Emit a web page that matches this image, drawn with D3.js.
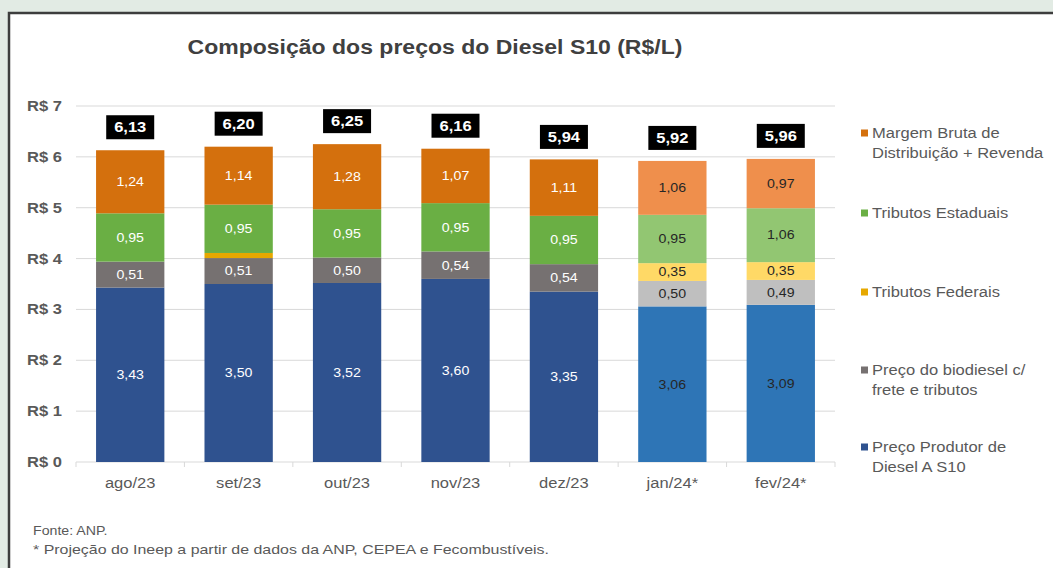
<!DOCTYPE html>
<html>
<head>
<meta charset="utf-8">
<script src="https://cdn.jsdelivr.net/npm/d3@7"></script>
<style>
  html, body { margin: 0; padding: 0; background: #e2ebe4; }
  svg { display: block; font-family: 'Liberation Sans', Arial, sans-serif; }
</style>
</head>
<body>
<svg id="chart"></svg>
<script>
const W = 1053, H = 568;

// data
const months = ['ago/23', 'set/23', 'out/23', 'nov/23', 'dez/23', 'jan/24*', 'fev/24*'];
const projected = [false, false, false, false, false, true, true];
const produtor = [3.43, 3.50, 3.52, 3.60, 3.35, 3.06, 3.09];
const biodiesel = [0.51, 0.51, 0.50, 0.54, 0.54, 0.50, 0.49];
const federais = [0, 0.10, 0, 0, 0, 0.35, 0.35];
const estaduais = [0.95, 0.95, 0.95, 0.95, 0.95, 0.95, 1.06];
const margem = [1.24, 1.14, 1.28, 1.07, 1.11, 1.06, 0.97];
const totals = [6.13, 6.20, 6.25, 6.16, 5.94, 5.92, 5.96];
const yTicks = [0, 1, 2, 3, 4, 5, 6, 7];

const series = [
  { key: 'produtor', values: produtor, label: ['Preço Produtor de', 'Diesel A S10'], dark: '#2f528f', light: '#2e75b6' },
  { key: 'biodiesel', values: biodiesel, label: ['Preço do biodiesel c/', 'frete e tributos'], dark: '#767171', light: '#bfbfbf' },
  { key: 'federais', values: federais, label: ['Tributos Federais'], dark: '#e6a800', light: '#ffd966' },
  { key: 'estaduais', values: estaduais, label: ['Tributos Estaduais'], dark: '#6aaf44', light: '#92c672' },
  { key: 'margem', values: margem, label: ['Margem Bruta de', 'Distribuição + Revenda'], dark: '#d4700d', light: '#ef8f4c' },
];

const SX = 1.18; // the source picture is stretched sideways
const GREY = '#595959';
const fmt = v => d3.format('.2f')(v).replace('.', ',');

const svg = d3.select('#chart').attr('width', W).attr('height', H);

svg.append('rect').attr('width', W).attr('height', H).attr('fill', '#e2ebe4');
svg.append('rect')
  .attr('x', 9).attr('y', 13).attr('width', W + 20).attr('height', H + 20)
  .attr('fill', '#fff').attr('stroke', '#3d3d3d').attr('stroke-width', 2.5);

const x = d3.scaleBand().domain(months).range([76, 835]).paddingInner(0.37).paddingOuter(0.185);
const y = d3.scaleLinear().domain([0, 7]).range([462, 106]);

// title
svg.append('text')
  .attr('x', 435).attr('y', 54)
  .attr('text-anchor', 'middle')
  .attr('font-size', 19.5).attr('font-weight', 'bold').attr('fill', '#404040')
  .text('Composição dos preços do Diesel S10 (R$/L)');

// grid + y labels
const grid = svg.append('g');
grid.selectAll('line')
  .data(yTicks)
  .join('line')
  .attr('x1', 76).attr('x2', 835)
  .attr('y1', d => y(d)).attr('y2', d => y(d))
  .attr('stroke', '#d9d9d9').attr('stroke-width', 1);
grid.selectAll('text')
  .data(yTicks)
  .join('text')
  .attr('x', 62).attr('y', d => y(d))
  .attr('dy', '0.36em')
  .attr('text-anchor', 'end')
  .attr('font-size', 14).attr('font-weight', 'bold').attr('fill', GREY)
  .text(d => `R$ ${d}`);

// x axis ticks at band boundaries
const step = x.step();
svg.append('g').selectAll('line')
  .data(d3.range(months.length + 1))
  .join('line')
  .attr('x1', i => 76 + i * step).attr('x2', i => 76 + i * step)
  .attr('y1', 462).attr('y2', 467)
  .attr('stroke', '#d9d9d9');
svg.append('g').selectAll('text')
  .data(months)
  .join('text')
  .attr('x', d => x(d) + x.bandwidth() / 2).attr('y', 488)
  .attr('text-anchor', 'middle')
  .attr('font-size', 14).attr('fill', GREY)
  .text(d => d);

// stacked bars
const rows = months.map((m, i) => {
  const r = { month: m, i };
  series.forEach(s => { r[s.key] = s.values[i]; });
  return r;
});
const stacked = d3.stack().keys(series.map(s => s.key))(rows);

stacked.forEach((layer, li) => {
  const s = series[li];
  const g = svg.append('g');
  g.selectAll('rect')
    .data(layer.filter(d => d[1] > d[0]))
    .join('rect')
    .attr('x', d => x(d.data.month))
    .attr('width', x.bandwidth())
    .attr('y', d => y(d[1]))
    .attr('height', d => y(d[0]) - y(d[1]))
    .attr('fill', d => projected[d.data.i] ? s.light : s.dark);
  g.selectAll('text')
    .data(layer.filter(d => d[1] - d[0] >= 0.2))
    .join('text')
    .attr('x', d => x(d.data.month) + x.bandwidth() / 2)
    .attr('y', d => y((d[0] + d[1]) / 2))
    .attr('dy', '0.36em')
    .attr('text-anchor', 'middle')
    .attr('font-size', 12)
    .attr('fill', d => projected[d.data.i] ? '#262626' : '#fff')
    .text(d => fmt(d[1] - d[0]));
});

// total boxes
const tg = svg.append('g').selectAll('g')
  .data(months.map((m, i) => ({ m, v: totals[i] })))
  .join('g')
  .attr('transform', d => `translate(${x(d.m) + x.bandwidth() / 2},${y(d.v) - 23})`);
tg.append('rect')
  .attr('x', -24).attr('y', -12).attr('width', 48).attr('height', 24)
  .attr('fill', '#000');
tg.append('text')
  .attr('dy', '0.36em')
  .attr('text-anchor', 'middle')
  .attr('font-size', 14).attr('font-weight', 'bold').attr('fill', '#fff')
  .text(d => fmt(d.v));

// legend
const legendY = { margem: 133, estaduais: 213, federais: 292, biodiesel: 370, produtor: 447 };
series.forEach(s => {
  const ly = legendY[s.key];
  svg.append('rect')
    .attr('x', 861).attr('y', ly - 3.5).attr('width', 7).attr('height', 7)
    .attr('fill', s.dark);
  s.label.forEach((line, k) => {
    svg.append('text')
      .attr('x', 872).attr('y', ly + k * 20)
      .attr('dy', '0.36em')
      .attr('font-size', 14).attr('fill', GREY)
      .text(line);
  });
});

// notes
svg.append('text').attr('x', 33).attr('y', 535)
  .attr('font-size', 12).attr('fill', GREY).text('Fonte: ANP.');
svg.append('text').attr('x', 33).attr('y', 554)
  .attr('font-size', 13.5).attr('fill', GREY)
  .text('* Projeção do Ineep a partir de dados da ANP, CEPEA e Fecombustíveis.');

// widen all text to match the stretched source
svg.selectAll('text').each(function () {
  const len = this.getComputedTextLength();
  d3.select(this).attr('textLength', len * SX).attr('lengthAdjust', 'spacingAndGlyphs');
});
</script>
</body>
</html>
